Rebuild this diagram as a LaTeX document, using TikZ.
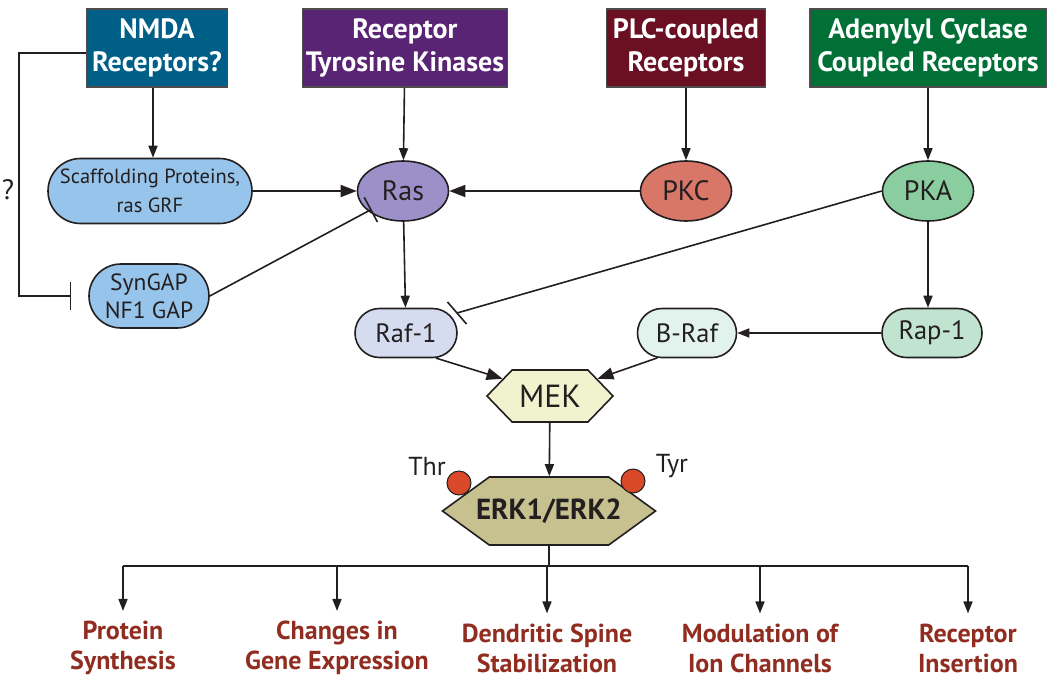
\documentclass[tikz,border=0pt]{standalone}
\usepackage{fontspec}
\setmainfont{PT Sans}
\usetikzlibrary{arrows.meta,shapes.geometric,shapes.misc,shapes.symbols}
\definecolor{nmdablue}{RGB}{0,95,135}
\definecolor{rtkpurple}{RGB}{88,36,115}
\definecolor{plcred}{RGB}{107,16,35}
\definecolor{acgreen}{RGB}{0,112,54}
\definecolor{scafblue}{RGB}{150,196,234}
\definecolor{raspurple}{RGB}{155,145,200}
\definecolor{pkcred}{RGB}{216,118,104}
\definecolor{pkagreen}{RGB}{138,206,160}
\definecolor{rafblue}{RGB}{214,220,240}
\definecolor{brafgreen}{RGB}{226,242,236}
\definecolor{rapgreen}{RGB}{192,228,208}
\definecolor{mekyellow}{RGB}{240,243,205}
\definecolor{erkkhaki}{RGB}{199,193,144}
\definecolor{phosred}{RGB}{218,72,42}
\definecolor{effectred}{RGB}{145,45,32}
\definecolor{inkgray}{RGB}{35,31,32}

\begin{document}
\begin{tikzpicture}[x=1pt, y=-1pt, line width=1.6pt, draw=inkgray, text=inkgray,
  >={Triangle[length=12pt,width=9pt]},
  recbox/.style={rectangle, draw=inkgray!80, line width=1.2pt, text=white, inner sep=0pt,
    minimum height=78pt, align=center, font=\fontsize{28}{33}\selectfont\bfseries},
  oval/.style={ellipse, draw, inner sep=0pt, minimum width=91pt, minimum height=60pt,
    font=\fontsize{28}{30}\selectfont},
  pill/.style={rounded rectangle, draw, inner sep=0pt, align=center},
  effect/.style={text=effectred, align=center, font=\fontsize{26}{30}\selectfont\bfseries},
  phos/.style={circle, draw, fill=phosred, line width=1pt, minimum size=24pt, inner sep=0pt},
  inhib/.style={-{Bar[width=28pt]}}]
  \useasboundingbox (0,0) rectangle (1050,681);

  % receptors
  \node (nmda) at (157,48) [recbox, fill=nmdablue, minimum width=141pt] {NMDA\\Receptors?};
  \node (rtk)  at (405,48) [recbox, fill=rtkpurple, minimum width=205pt] {Receptor\\Tyrosine Kinases};
  \node (plc)  at (686,48) [recbox, fill=plcred, minimum width=159pt] {PLC-coupled\\Receptors};
  \node (ac)   at (928,48) [recbox, fill=acgreen, minimum width=236pt] {Adenylyl Cyclase\\Coupled Receptors};

  % second row
  \node (scaf) at (150,191) [pill, fill=scafblue, minimum width=204pt, minimum height=65pt,
    font=\fontsize{20.5}{29}\selectfont] {Scaffolding Proteins,\\ras GRF};
  \node (ras) at (403,191) [oval, fill=raspurple] {Ras};
  \node (pkc) at (686,191) [oval, fill=pkcred] {PKC};
  \node (pka) at (928,191) [oval, fill=pkagreen] {PKA};
  \node (syngap) at (149,296) [pill, fill=scafblue, minimum width=120pt, minimum height=64pt,
    font=\fontsize{23.5}{28}\selectfont] {SynGAP\\NF1 GAP};

  % raf row
  \node (raf)  at (406,333) [pill, fill=rafblue, minimum width=102pt, minimum height=49pt,
    font=\fontsize{26.5}{30}\selectfont] {Raf-1};
  \node (braf) at (687,333) [pill, fill=brafgreen, minimum width=99pt, minimum height=49pt,
    font=\fontsize{26.5}{30}\selectfont] {B-Raf};
  \node (rap)  at (932,333) [pill, fill=rapgreen, minimum width=100pt, minimum height=49pt,
    font=\fontsize{26.5}{30}\selectfont] {Rap-1};

  \node (mek) at (550,396) [signal, signal to=west and east, signal pointer angle=92, draw,
    fill=mekyellow, inner sep=0pt, minimum width=126pt, minimum height=52pt,
    font=\fontsize{32}{34}\selectfont] {MEK};
  \node (erk) at (549,511) [signal, signal to=west and east, signal pointer angle=72, draw,
    fill=erkkhaki, inner sep=0pt, minimum width=213pt, minimum height=68pt,
    label={[font=\fontsize{29}{32}\selectfont\bfseries]center:ERK1/ERK2}] {};
  \node (thrdot) at (459,483) [phos] {};
  \node (tyrdot) at (633,481) [phos] {};
  \node (thr) at (427,466) [font=\fontsize{26}{30}\selectfont] {Thr};
  \node (tyr) at (672,466) [font=\fontsize{26}{30}\selectfont] {Tyr};
  \node (unknown) at (8,190) [font=\fontsize{28}{30}\selectfont] {?};

  % effects
  \node (protein) at (123,648) [effect] {Protein\\Synthesis};
  \node (gene)    at (337,648) [effect] {Changes in\\Gene Expression};
  \node (spine)   at (547,648) [effect] {Dendritic Spine\\Stabilization};
  \node (ion)     at (760,648) [effect] {Modulation of\\Ion Channels};
  \node (insert)  at (968,648) [effect] {Receptor\\Insertion};

  % activation
  \draw [->] (nmda.south -| 153,0) -- (scaf.north -| 153,0);
  \draw [->] (rtk) -- (ras);
  \draw [->] (plc) -- (pkc);
  \draw [->] (ac) -- (pka);
  \draw [->, >={Triangle[length=16pt,width=12pt]}] (scaf) -- (ras);
  \draw [->, >={Triangle[length=16pt,width=12pt]}] (pkc) -- (ras);
  \draw [->] (ras) -- (raf);
  \draw [->] (pka) -- (pka |- rap.north);
  \draw [->] (rap) -- (braf);
  \draw [->, >={Triangle[length=16pt,width=12pt]}] (raf.-40) -- (mek.160);
  \draw [->, >={Triangle[length=16pt,width=12pt]}] (braf.-140) -- (mek.20);
  \draw [->] (mek) -- (erk);

  % inhibition
  \draw [inhib, shorten >=-4pt] (syngap.east) -- (ras.210);
  \coordinate (rafstop) at (457,313);
  \draw (pka.west) -- (rafstop);
  \draw ([shift={(-9.5,-11)}]rafstop) -- ([shift={(9.5,11)}]rafstop);
  \draw [inhib] ([yshift=-5pt]nmda.west) -- ++(-67,0) |- ([xshift=-17pt]syngap.west);

  % outputs
  \coordinate (busl) at (123,566);
  \coordinate (busr) at (968,566);
  \draw (busl) -- (busr);
  \draw (erk.south) -- (erk.south |- busl);
  \foreach \n in {protein, gene, spine, ion, insert}
    \draw [->, shorten >=6pt] (\n.north |- busl) -- (\n.north);
\end{tikzpicture}
\end{document}
